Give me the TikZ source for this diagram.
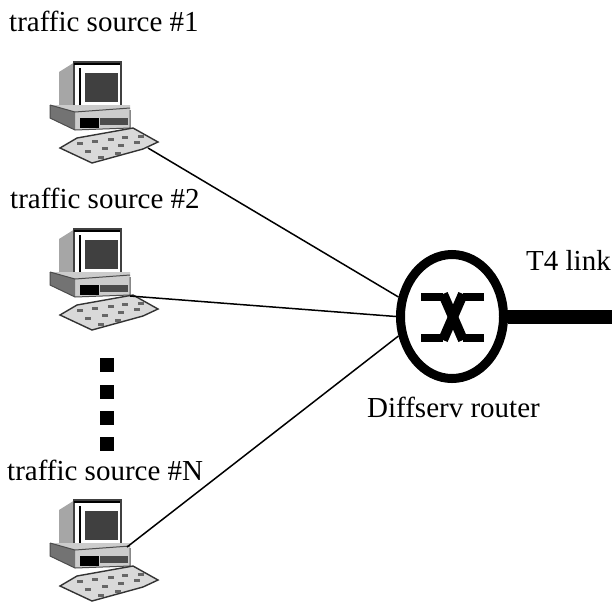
\documentclass[tikz,border=0pt]{standalone}
\usepackage{fontspec}
\usetikzlibrary{shapes.geometric}
\setmainfont{Liberation Serif}
\tikzset{
  lbl/.style={font=\fontsize{29}{32}\selectfont,inner sep=0pt,anchor=base west},
  wire/.style={line width=1.5pt,black},
  dotmark/.style={fill=black,draw=none,minimum size=14pt,inner sep=0pt,shape=rectangle},
  pics/pcicon/.style={code={
    \fill[black!35] (29,22) -- (45,12) -- (45,55) -- (29,55) -- cycle;
    \draw[line width=1.2pt,black!75,fill=white] (44,12) -- (91,12) -- (91,56) -- (44,56) -- cycle;
    \fill[black!75] (55,23) rectangle (88,52);
    \draw[line width=1.4pt,black] (50,18) -- (50,56);
    \draw[line width=1.4pt,black] (44,14) -- (90,14);
    \fill[black!20] (20,55) -- (100,55) -- (100,78) -- (45,80) -- (20,68) -- cycle;
    \fill[black!55] (20,55) -- (45,62) -- (45,80) -- (20,68) -- cycle;
    \draw[line width=1pt,black!70] (20,55) -- (20,68) -- (45,80) -- (100,78) -- (100,60);
    \draw[line width=1pt,black!70] (20,55) -- (45,62) -- (100,58);
    \fill[black] (50,68) rectangle (69,78);
    \fill[black!70] (70,68) rectangle (98,75);
    \fill[white!85!black] (30,98) -- (47,88) -- (103,78) -- (128,92) -- (113,99) -- (62,113) -- cycle;
    \draw[line width=1.4pt,black!80] (30,98) -- (47,88) -- (103,78) -- (128,92) -- (113,99) -- (62,113) -- cycle;
    \foreach \a/\b in {47/92,62/90,78/88,92/86,108/85,55/100,72/97,88/94,104/91,68/106,85/102}
      \fill[black!60] (\a,\b) rectangle +(6,3);
  }}
}
\begin{document}
\begin{tikzpicture}[x=1pt,y=-1pt]
\useasboundingbox (0,0) rectangle (612,603);
\fill[white] (0,0) rectangle (612,603);
\pic at (30,50) {pcicon};
\pic at (30,217) {pcicon};
\pic at (30,488) {pcicon};
\node[lbl] (t1) at (9,31) {traffic source \#1};
\node[lbl] (t2) at (10,208) {traffic source \#2};
\node[lbl] (t3) at (7,480) {traffic source \#N};
\node[lbl] (t4) at (526,270) {T4 link};
\node[lbl] (dr) at (367,417) {Diffserv router};
\node[dotmark] (d1) at (107,365) {};
\node[dotmark] (d2) at (107,392) {};
\node[dotmark] (d3) at (107,418) {};
\node[dotmark] (d4) at (107,444) {};
\coordinate (c1) at (148,148);
\coordinate (c2) at (130,296);
\coordinate (c3) at (127,547);
\node[draw=black,line width=9pt,ellipse,minimum width=103pt,minimum height=124pt,inner sep=0pt] (r) at (452,316.5) {};
\coordinate (e) at (612,317);
\draw[wire] (c1) -- (r.160);
\draw[wire] (c2) -- (r.180);
\draw[wire] (c3) -- (r.200);
\draw[line width=14pt] (r.east |- e) -- (e);
\draw[line width=8pt] (421,296.5) -- (443,296.5) (484,296.5) -- (463,296.5);
\draw[line width=8pt] (421,337.5) -- (443,337.5) (484,337.5) -- (463,337.5);
\draw[line width=10pt] (443,294) -- (463,340);
\draw[line width=10pt] (443,340) -- (463,294);
\end{tikzpicture}
\end{document}
